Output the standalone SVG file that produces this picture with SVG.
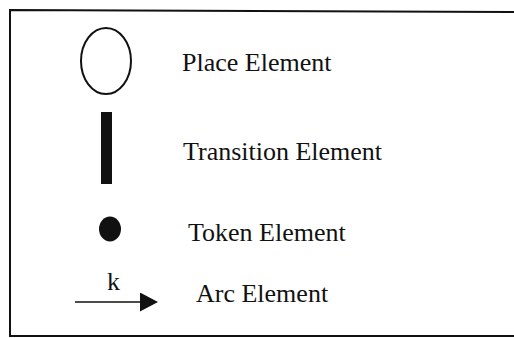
<svg xmlns="http://www.w3.org/2000/svg" width="514" height="338" viewBox="0 0 514 338">
<style>
.lbl{font-family:"Liberation Serif","Times New Roman",serif;font-size:26px;fill:#111}
.stroke{fill:none;stroke:#111;stroke-width:2}
</style>
<defs>
<marker id="ah" markerWidth="18" markerHeight="19" refX="0" refY="9.5" orient="auto" markerUnits="userSpaceOnUse">
<path d="M0,0 L18,9.5 L0,19 Z" fill="#111"/>
</marker>
</defs>
<rect width="514" height="338" fill="#fff"/>
<path class="stroke" d="M530,12 L10,10 L10,336 L530,336"/>
<g id="place">
<ellipse cx="106" cy="61" rx="25" ry="33" class="stroke" stroke-width="1.6"/>
<text class="lbl" x="182" y="71">Place Element</text>
</g>
<g id="transition">
<rect x="101" y="112" width="11" height="72" fill="#111"/>
<text class="lbl" x="183" y="160">Transition Element</text>
</g>
<g id="token">
<ellipse cx="110" cy="229" rx="11" ry="12.5" fill="#111"/>
<text class="lbl" x="188" y="241">Token Element</text>
</g>
<g id="connectors">
<line x1="75" y1="302" x2="140" y2="302" stroke="#111" stroke-width="1.5" marker-end="url(#ah)"/>
</g>
<g id="arc">
<text class="lbl" x="107" y="290">k</text>
<text class="lbl" x="196" y="302">Arc Element</text>
</g>
</svg>
